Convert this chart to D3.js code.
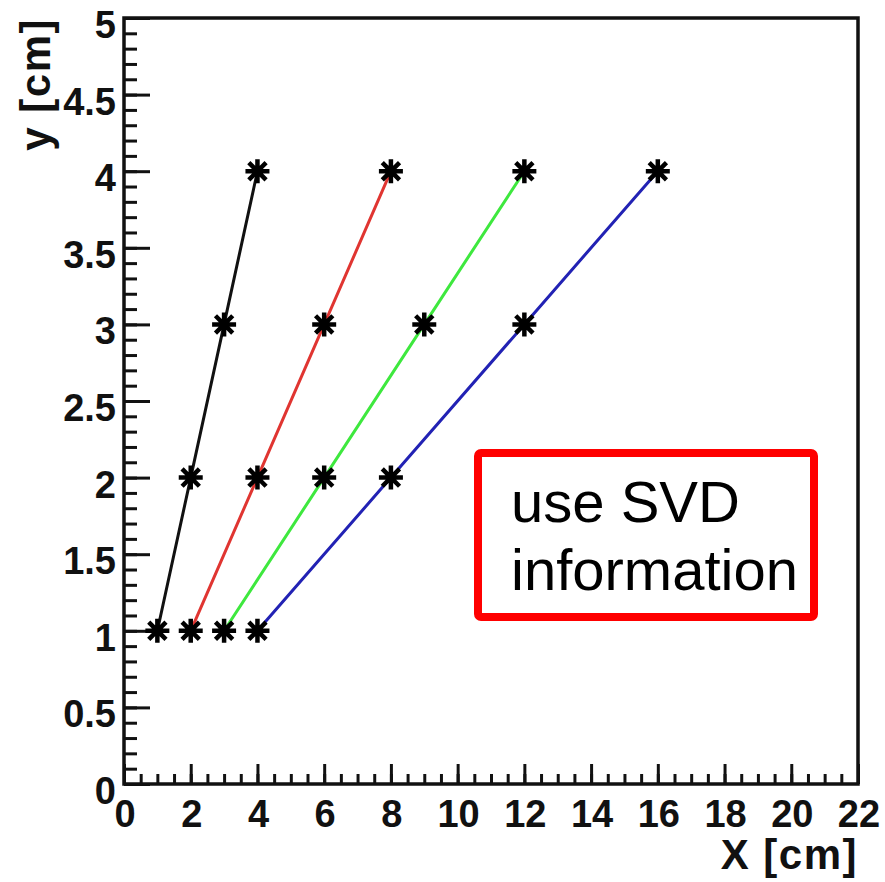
<!DOCTYPE html>
<meta charset="utf-8">
<style>
  body { margin: 0; background: #fff; }
  text { font-family: "Liberation Sans", Arial, sans-serif; }
  .tick-label { font-weight: bold; font-size: 38px; fill: #111; }
  .axis-title { font-weight: bold; font-size: 42px; fill: #111; letter-spacing: 1.5px; }
  .note { font-size: 58px; fill: #000; }
</style>
<body>
<script src="https://d3js.org/d3.v7.min.js"></script>
<script>
// track data: four straight tracks, hits at y = 1..4
var hitY = [1, 2, 3, 4];
var trackBlack = [1, 2, 3, 4];
var trackRed = [2, 4, 6, 8];
var trackGreen = [3, 6, 9, 12];
var trackBlue = [4, 8, 12, 16];
var trackColors = ["#111111", "#e03531", "#3ee83e", "#2222b4"];

var xTickValues = [0, 2, 4, 6, 8, 10, 12, 14, 16, 18, 20, 22];
var yTickValues = [0, 0.5, 1, 1.5, 2, 2.5, 3, 3.5, 4, 4.5, 5];
var yTickLabels = ["0", "0.5", "1", "1.5", "2", "2.5", "3", "3.5", "4", "4.5", "5"];

var noteLines = ["use SVD", "information"];

var W = 885, H = 882;
var frameL = 124, frameR = 858, frameT = 18, frameB = 784;

var svg = d3.select("body").append("svg")
    .attr("width", W)
    .attr("height", H);

var x = d3.scaleLinear().domain([0, 22]).range([frameL, frameR]);
var y = d3.scaleLinear().domain([0, 5]).range([frameB, frameT]);

// minor + major ticks, left axis only
var yMinor = d3.range(0, 5.0001, 0.1);
svg.append("g")
    .attr("transform", "translate(" + frameL + ",0)")
    .call(d3.axisRight(y).tickValues(yMinor).tickSize(13).tickFormat(""))
    .call(g => g.select(".domain").remove());
svg.append("g")
    .attr("transform", "translate(" + frameL + ",0)")
    .call(d3.axisRight(y).tickValues(yTickValues).tickSize(26).tickFormat(""))
    .call(g => g.select(".domain").remove());

var xMinor = d3.range(0, 22.0001, 0.5);
svg.append("g")
    .attr("transform", "translate(0," + frameB + ")")
    .call(d3.axisTop(x).tickValues(xMinor).tickSize(10).tickFormat(""))
    .call(g => g.select(".domain").remove());
svg.append("g")
    .attr("transform", "translate(0," + frameB + ")")
    .call(d3.axisTop(x).tickValues(xTickValues).tickSize(20).tickFormat(""))
    .call(g => g.select(".domain").remove());

svg.selectAll(".tick line")
    .attr("stroke", "#111")
    .attr("stroke-width", 3);

// frame
svg.append("rect")
    .attr("x", frameL).attr("y", frameT)
    .attr("width", frameR - frameL).attr("height", frameB - frameT)
    .attr("fill", "none")
    .attr("stroke", "#111")
    .attr("stroke-width", 3.5);

// tick labels
svg.selectAll(".ylab")
    .data(yTickValues)
  .enter().append("text")
    .attr("class", "tick-label")
    .attr("x", frameL - 8)
    .attr("y", d => y(d) + 20)
    .attr("text-anchor", "end")
    .text((d, i) => yTickLabels[i]);

svg.selectAll(".xlab")
    .data(xTickValues)
  .enter().append("text")
    .attr("class", "tick-label")
    .attr("x", d => x(d) + 1)
    .attr("y", frameB + 43)
    .attr("text-anchor", "middle")
    .text(d => d);

// axis titles
svg.append("text")
    .attr("class", "axis-title")
    .attr("text-anchor", "end")
    .attr("transform", "translate(50," + frameT + ") rotate(-90)")
    .text("y [cm]");

svg.append("text")
    .attr("class", "axis-title")
    .attr("text-anchor", "end")
    .attr("x", frameR)
    .attr("y", 869)
    .text("X [cm]");

// tracks
var tracks = [trackBlack, trackRed, trackGreen, trackBlue].map(function(xs, k) {
    return { color: trackColors[k], pts: xs.map((v, i) => [v, hitY[i]]) };
});

var line = d3.line().x(d => x(d[0])).y(d => y(d[1]));

svg.selectAll(".track")
    .data(tracks)
  .enter().append("path")
    .attr("d", d => line(d.pts))
    .attr("fill", "none")
    .attr("stroke", d => d.color)
    .attr("stroke-width", 3);

// asterisk markers
var r = 12;
var star = "M" + -r + ",0L" + r + ",0M0," + -r + "L0," + r +
           "M" + -r * 0.72 + "," + -r * 0.72 + "L" + r * 0.72 + "," + r * 0.72 +
           "M" + -r * 0.72 + "," + r * 0.72 + "L" + r * 0.72 + "," + -r * 0.72;

var allPts = [];
tracks.forEach(t => t.pts.forEach(p => allPts.push(p)));

svg.selectAll(".hit")
    .data(allPts)
  .enter().append("path")
    .attr("transform", d => "translate(" + x(d[0]) + "," + y(d[1]) + ")")
    .attr("d", star)
    .attr("fill", "none")
    .attr("stroke", "#000")
    .attr("stroke-width", 4.5);

// note box
svg.append("rect")
    .attr("x", 478).attr("y", 453)
    .attr("width", 336).attr("height", 164)
    .attr("rx", 3)
    .attr("fill", "#fff")
    .attr("stroke", "#ff0000")
    .attr("stroke-width", 8);

svg.selectAll(".note")
    .data(noteLines)
  .enter().append("text")
    .attr("class", "note")
    .attr("x", 511)
    .attr("y", (d, i) => 522 + i * 68)
    .text(d => d);
</script>
</body>
